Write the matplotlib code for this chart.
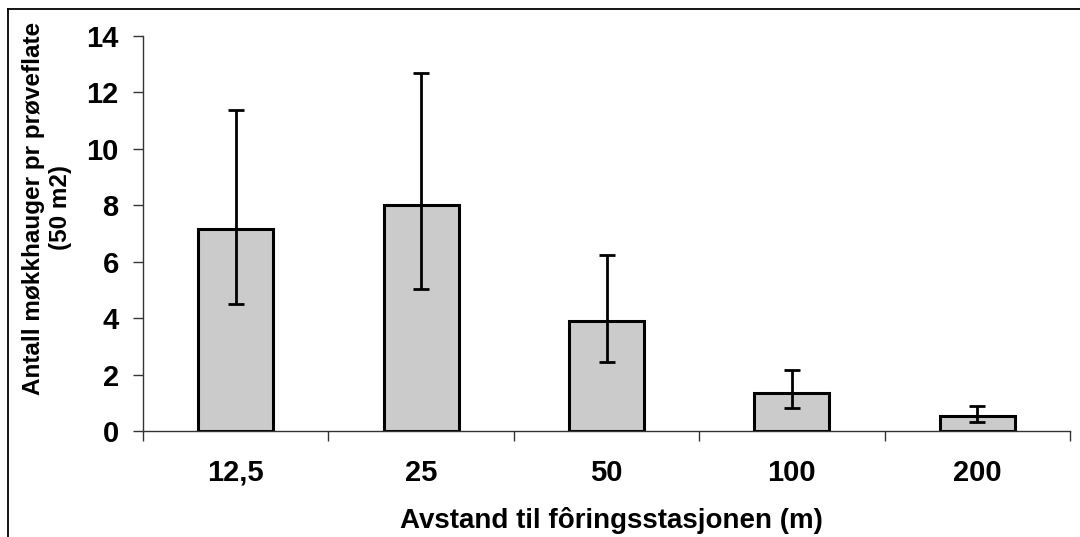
import matplotlib
matplotlib.use("Agg")
import matplotlib.pyplot as plt
from matplotlib.lines import Line2D
import numpy as np

categories = ["12,5", "25", "50", "100", "200"]
means = [7.16, 8.0, 3.91, 1.34, 0.53]
upper = [11.38, 12.70, 6.23, 2.17, 0.89]
lower = [4.50, 5.04, 2.46, 0.82, 0.32]
yticks = [0, 2, 4, 6, 8, 10, 12, 14]

plt.rcParams['font.family'] = ['Liberation Sans', 'DejaVu Sans']
plt.rcParams['font.weight'] = 'bold'

fig = plt.figure(figsize=(10.8, 5.37), dpi=100)
ax = fig.add_axes([143/1080, 1-431/537, (1070-143)/1080, (431-36)/537])

x = np.arange(len(categories))
m = np.array(means)
yerr = np.vstack([m - np.array(lower), np.array(upper) - m])
ax.bar(x, m, width=0.405, color='#cbcbcb', edgecolor='black', linewidth=2.2, zorder=2)
ax.errorbar(x, m, yerr=yerr, fmt='none', ecolor='black', elinewidth=2.0,
            capsize=5.5, capthick=2.0, zorder=3)

ax.set_xlim(-0.5, len(categories) - 0.5)
ax.set_ylim(0, 14)
ax.set_yticks(yticks)
ax.set_yticklabels([str(v) for v in yticks], fontsize=21, fontweight='bold')
ax.set_xticks(x)
ax.set_xticklabels(categories, fontsize=21, fontweight='bold')
ax.set_xticks(np.arange(-0.5, len(categories)), minor=True)
ax.tick_params(axis='x', which='major', length=0, pad=20)
ax.tick_params(axis='x', which='minor', length=7.5, width=1.0, color='#333333', direction='out')
ax.tick_params(axis='y', which='major', length=7.5, width=1.0, color='#333333', direction='out', pad=10)

for s in ['top', 'right']:
    ax.spines[s].set_visible(False)
for s in ['left', 'bottom']:
    ax.spines[s].set_color('#333333')
    ax.spines[s].set_linewidth(1.0)

fig.text(611/1080, 1-521/537, "Avstand til fôringsstasjonen (m)", ha='center', va='center',
         fontsize=20, fontweight='bold')
fig.text(47/1080, 1-208/537, "Antall møkkhauger pr prøveflate\n(50 m2)", ha='center', va='center',
         rotation=90, fontsize=17.5, fontweight='bold', linespacing=1.2, multialignment='center')

fig.add_artist(Line2D([8/1080, 8/1080], [0, 1-9/537], color='black', linewidth=1.3, transform=fig.transFigure))
fig.add_artist(Line2D([8/1080, 1], [1-9/537, 1-9/537], color='black', linewidth=1.3, transform=fig.transFigure))

fig.savefig("out.png", dpi=100)
